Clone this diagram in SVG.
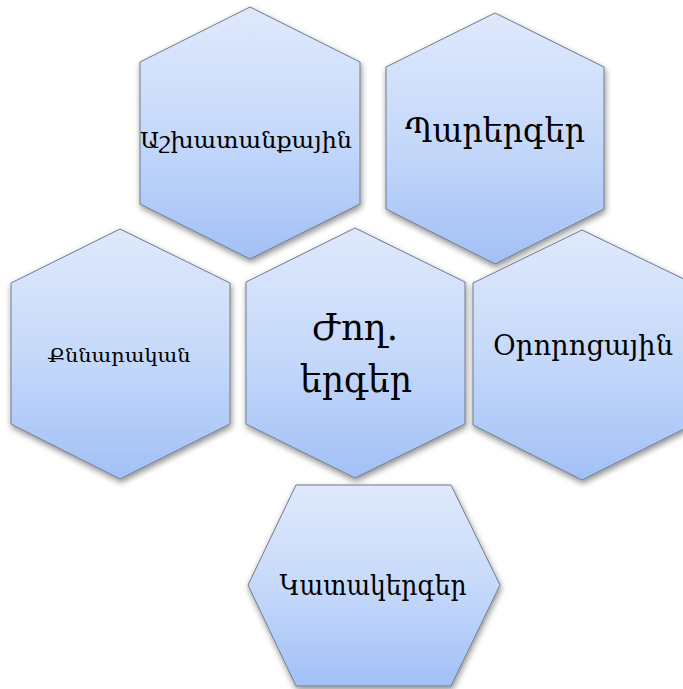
<svg xmlns="http://www.w3.org/2000/svg" width="683" height="689" viewBox="0 0 683 689">
<defs>
<linearGradient id="g" x1="0" y1="0" x2="0" y2="1">
<stop offset="0" stop-color="#dfe9fc"/>
<stop offset="0.5" stop-color="#c6d9fa"/>
<stop offset="1" stop-color="#a2c0f6"/>
</linearGradient>
<filter id="sh" x="-20%" y="-20%" width="140%" height="140%">
<feGaussianBlur in="SourceAlpha" stdDeviation="3"/>
<feOffset dx="1" dy="3" result="b"/>
<feComponentTransfer><feFuncA type="linear" slope="0.45"/></feComponentTransfer>
<feMerge><feMergeNode/><feMergeNode in="SourceGraphic"/></feMerge>
</filter>
</defs>
<style>
.hex{fill:url(#g);stroke:#6f7b8e;stroke-width:1;filter:url(#sh)}
text{font-family:"DejaVu Serif","Liberation Serif",serif;fill:#000;text-anchor:middle}
</style>
<rect width="683" height="689" fill="#fff"/>
<g id="connectors"/>
<g id="n1">
<polygon class="hex" points="250,7 360,62 360,204 250,259 140,204 140,62"/>
<text x="246" y="148" font-size="22" textLength="212" lengthAdjust="spacingAndGlyphs">Աշխատանքային</text>
</g>
<g id="n2">
<polygon class="hex" points="495,13 604,67 604,209 495,264 386,209 386,67"/>
<text x="495" y="142" font-size="33" textLength="180" lengthAdjust="spacingAndGlyphs">Պարերգեր</text>
</g>
<g id="n3">
<polygon class="hex" points="120,229 230,283 230,424 120,479 11,424 11,283"/>
<text x="119" y="362" font-size="19" textLength="143" lengthAdjust="spacingAndGlyphs">Քննարական</text>
</g>
<g id="n4">
<polygon class="hex" points="355,228 465,282 465,424 355,478 246,424 246,282"/>
<text x="355" y="340" font-size="38" textLength="86" lengthAdjust="spacingAndGlyphs">Ժող.</text>
<text x="356" y="392" font-size="38" textLength="112" lengthAdjust="spacingAndGlyphs">երգեր</text>
</g>
<g id="n5">
<polygon class="hex" points="582,230 692,283 692,425 582,480 473,425 473,283"/>
<text x="583" y="355" font-size="28" textLength="180" lengthAdjust="spacingAndGlyphs">Օրորոցային</text>
</g>
<g id="n6">
<polygon class="hex" points="296,485 451,485 500,585 451,686 296,686 248,585"/>
<text x="373" y="595" font-size="28" textLength="187" lengthAdjust="spacingAndGlyphs">Կատակերգեր</text>
</g>
</svg>
